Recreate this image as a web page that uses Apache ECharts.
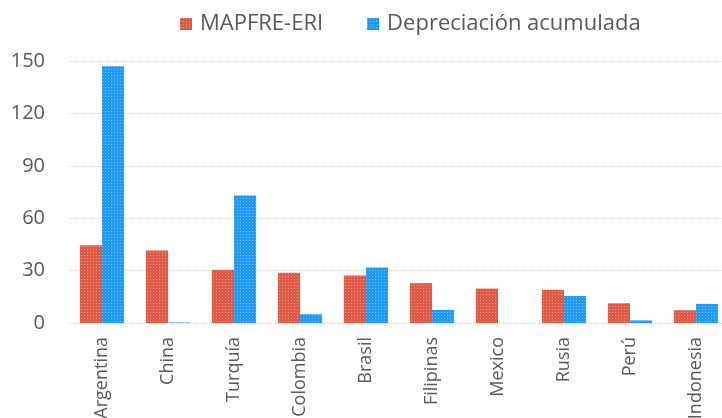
<!DOCTYPE html>
<html>
<head>
<meta charset="utf-8">
<script src="https://cdn.jsdelivr.net/npm/echarts@6/dist/echarts.min.js"></script>
<style>
  html, body { margin: 0; padding: 0; background: #fff; }
  #chart { width: 722px; height: 418px; }
</style>
</head>
<body>
<div id="chart"></div>
<script>
// datos
const paises = ['Argentina', 'China', 'Turquía', 'Colombia', 'Brasil', 'Filipinas', 'Mexico', 'Rusia', 'Perú', 'Indonesia']
const mapfreEri = [44.5, 41.5, 30.5, 28.7, 27.2, 22.8, 19.7, 19.0, 11.3, 7.3]
const depreciacion = [147, 0.3, 73, 5.0, 31.8, 7.5, 0, 15.5, 1.5, 10.9]
const nombres = ['MAPFRE-ERI', 'Depreciación acumulada']

const fuente = '"Open Sans", "DejaVu Sans", sans-serif'
const gris = '#595959'

const chart = echarts.init(document.getElementById('chart'))

// textura de puntos como en el original
const textura = {
  symbol: 'rect',
  symbolSize: 1,
  color: 'rgba(255,255,255,0.35)',
  dashArrayX: [1, 2],
  dashArrayY: [1, 2],
}

const option = {
  backgroundColor: '#fff',
  animation: false,
  textStyle: { fontFamily: fuente },
  legend: {
    top: 8,
    left: 175,
    itemWidth: 12,
    itemHeight: 12,
    itemGap: 44,
    icon: 'rect',
    textStyle: { fontSize: 22, color: gris, fontFamily: fuente, padding: [0, 0, 0, 3] },
    data: nombres,
  },
  grid: {
    left: 69,
    right: -7,
    top: 61,
    bottom: 95,
    containLabel: false,
    outerBoundsMode: 'none',
  },
  xAxis: {
    type: 'category',
    data: paises,
    axisLine: { show: false },
    axisTick: { show: false },
    axisLabel: {
      rotate: 90,
      margin: 14,
      fontSize: 18,
      color: gris,
      interval: 0,
    },
  },
  yAxis: {
    type: 'value',
    min: 0,
    max: 150,
    interval: 30,
    axisLine: { show: false },
    axisTick: { show: false },
    axisLabel: {
      fontSize: 20,
      color: gris,
      margin: 24,
    },
    splitLine: {
      lineStyle: { color: '#d9d9d9', type: 'dotted', width: 1 },
    },
  },
  series: [
    {
      name: nombres[0],
      type: 'bar',
      data: mapfreEri,
      barGap: '0%',
      barCategoryGap: '33%',
      itemStyle: { color: '#e15a45', decal: textura },
    },
    {
      name: nombres[1],
      type: 'bar',
      data: depreciacion,
      itemStyle: { color: '#1f9bf5', decal: textura },
    },
  ],
}

chart.setOption(option)
</script>
</body>
</html>
